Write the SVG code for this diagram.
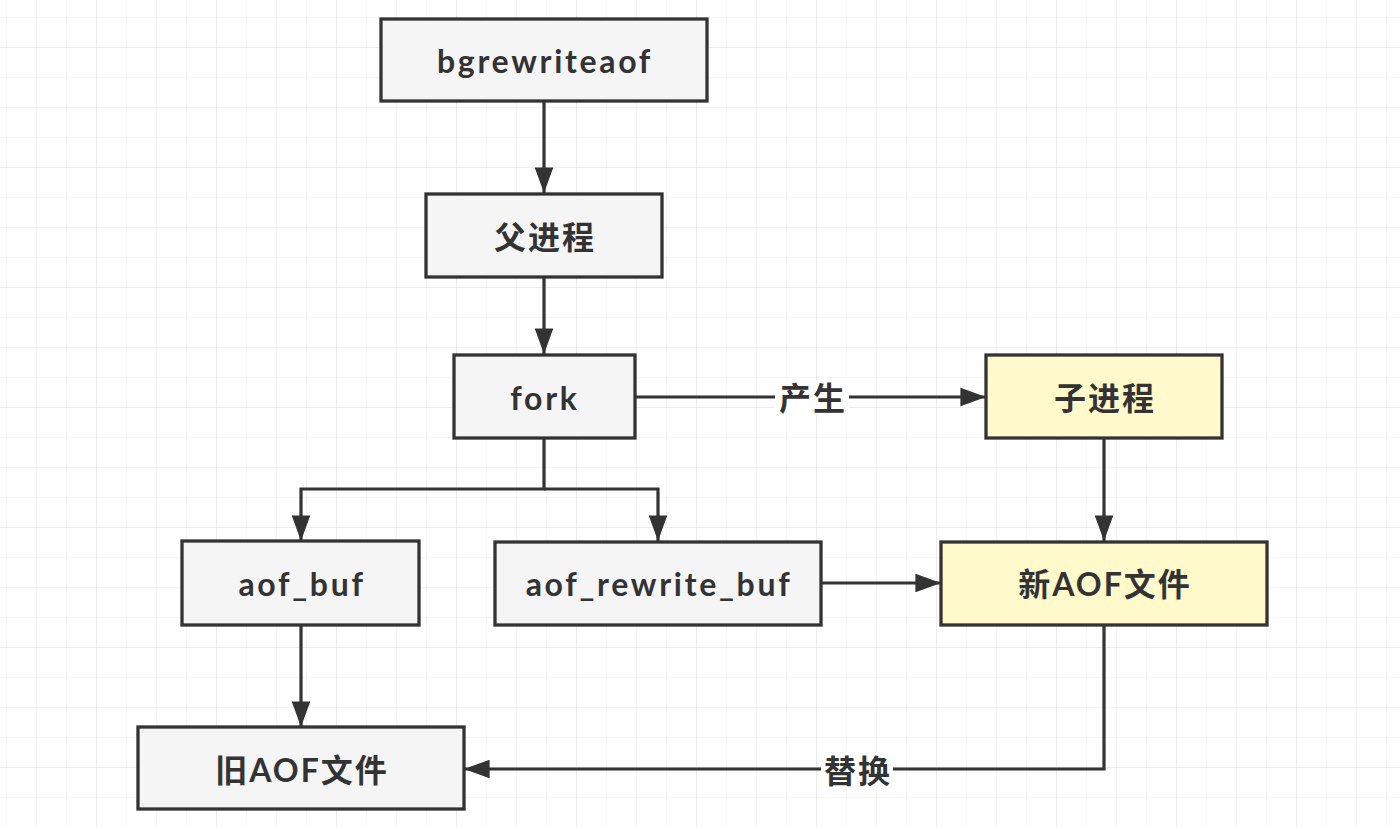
<svg xmlns="http://www.w3.org/2000/svg" width="1400" height="827" viewBox="0 0 1400 827">
<defs>
<pattern id="minor" width="30" height="30" patternUnits="userSpaceOnUse" x="6" y="17">
<path d="M0 0H30M0 0V30" fill="none" stroke="#efefef" stroke-width="1"/>
</pattern>
<pattern id="major" width="120" height="120" patternUnits="userSpaceOnUse" x="-24" y="47">
<path d="M0 0H120M0 0V120" fill="none" stroke="#e2e2e2" stroke-width="1"/>
</pattern>
<marker id="arr" viewBox="0 0 10 10" refX="10" refY="5" markerWidth="8" markerHeight="5.8" markerUnits="strokeWidth" orient="auto" preserveAspectRatio="none">
<path d="M0 0L10 5L0 10z" fill="#333"/>
</marker>
<style>
.box{fill:#f5f5f5;stroke:#333;stroke-width:3.3}
.yel{fill:#fff9cc;stroke:#333;stroke-width:3.3}
.t{font-family:"Comic Sans MS","Lato","Noto Sans","Noto Sans CJK SC",sans-serif;font-weight:bold;font-size:32px;fill:#333;text-anchor:middle;dominant-baseline:central}
.l{letter-spacing:2.7px}
.z{letter-spacing:2px}
.c{fill:none;stroke:#333;stroke-width:3.2}
.lbl{fill:#fff}
</style>
</defs>
<rect width="1400" height="827" fill="#fff"/>
<rect width="1400" height="827" fill="url(#minor)"/>
<rect width="1400" height="827" fill="url(#major)"/>

<g id="connectors">
<path class="c" d="M544 101V193" marker-end="url(#arr)"/>
<path class="c" d="M544 277V354" marker-end="url(#arr)"/>
<path class="c" d="M635 397H986" marker-end="url(#arr)"/>
<path class="c" d="M544 438V489H301V541" marker-end="url(#arr)"/>
<path class="c" d="M544 489H658V541" marker-end="url(#arr)"/>
<path class="c" d="M1104 438V541" marker-end="url(#arr)"/>
<path class="c" d="M821 583H941" marker-end="url(#arr)"/>
<path class="c" d="M301 625V727" marker-end="url(#arr)"/>
<path class="c" d="M1104 625V769H464" marker-end="url(#arr)"/>
<rect class="lbl" x="775" y="380" width="74" height="34"/>
<text class="t z" x="813" y="397">产生</text>
<rect class="lbl" x="821" y="752" width="72" height="34"/>
<text class="t z" x="858" y="770">替换</text>
</g>

<g id="bgrewriteaof"><rect class="box" x="381" y="19" width="326" height="82"/><text class="t l" x="545" y="60">bgrewriteaof</text></g>
<g id="parent"><rect class="box" x="426" y="194" width="236" height="83"/><text class="t z" x="545" y="236">父进程</text></g>
<g id="fork"><rect class="box" x="454" y="355" width="181" height="83"/><text class="t l" x="545" y="397">fork</text></g>
<g id="child"><rect class="yel" x="986" y="355" width="236" height="83"/><text class="t z" x="1105" y="397">子进程</text></g>
<g id="aof_buf"><rect class="box" x="182" y="541" width="237" height="84"/><text class="t l" x="302" y="583">aof_buf</text></g>
<g id="aof_rewrite_buf"><rect class="box" x="495" y="542" width="326" height="83"/><text class="t l" x="659" y="583">aof_rewrite_buf</text></g>
<g id="new_aof"><rect class="yel" x="941" y="542" width="326" height="83"/><text class="t z" x="1105" y="583">新AOF文件</text></g>
<g id="old_aof"><rect class="box" x="138" y="727" width="326" height="82"/><text class="t z" x="302" y="769">旧AOF文件</text></g>
</svg>
